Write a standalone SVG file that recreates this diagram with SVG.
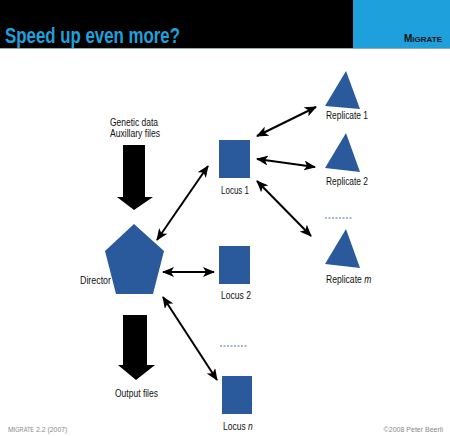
<svg xmlns="http://www.w3.org/2000/svg" width="450" height="436" viewBox="0 0 450 436">
  <defs>
    <style>
      .t { font-family: "Liberation Sans", Arial, sans-serif; font-size: 10px; fill: #111; }
      .node { fill: #2a5a9c; }
      .link { stroke: #000; stroke-width: 2; fill: none; marker-start: url(#head); marker-end: url(#head); }
      .foot { font-family: "Liberation Sans", Arial, sans-serif; font-size: 8px; fill: #888; }
      .dash { stroke: #4a6fa5; stroke-width: 1; stroke-dasharray: 2 1.5; }
    </style>
    <marker id="head" viewBox="0 0 12 10" refX="11" refY="5" markerWidth="12" markerHeight="10" markerUnits="userSpaceOnUse" orient="auto-start-reverse">
      <path d="M0,0 L12,5 L0,10 L3,5 Z" fill="#000"/>
    </marker>
  </defs>

  <rect width="450" height="436" fill="#fff"/>

  <!-- header band -->
  <g id="header">
    <rect x="0" y="0" width="353" height="48" fill="#000"/>
    <rect x="353" y="0" width="97" height="48" fill="#1ea0dc"/>
    <line x1="0" y1="48.5" x2="450" y2="48.5" stroke="#9aa" stroke-width="1"/>
    <text x="5" y="43" textLength="175" lengthAdjust="spacingAndGlyphs" font-family="Liberation Sans, Arial, sans-serif" font-weight="bold" font-size="22" fill="#1ea0dc">Speed up even more?</text>
    <text x="404" y="42" font-family="Liberation Sans, Arial, sans-serif" font-weight="bold" font-size="10" fill="#111">M<tspan font-size="8">IGRATE</tspan></text>
  </g>

  <!-- connectors -->
  <g id="connectors">
    <line class="link" x1="157" y1="240" x2="208" y2="166"/>
    <line class="link" x1="163" y1="272" x2="214" y2="272"/>
    <line class="link" x1="163" y1="297" x2="217" y2="380"/>
    <line class="link" x1="257" y1="136" x2="316" y2="107"/>
    <line class="link" x1="257" y1="159" x2="315" y2="167"/>
    <line class="link" x1="257" y1="181" x2="311" y2="236"/>
    <line class="dash" x1="325" y1="218" x2="353" y2="218"/>
    <line class="dash" x1="220" y1="346" x2="247" y2="346"/>
  </g>

  <!-- input -->
  <g id="input">
    <text class="t" x="110" y="126" textLength="48" lengthAdjust="spacingAndGlyphs">Genetic data</text>
    <text class="t" x="110" y="137" textLength="50" lengthAdjust="spacingAndGlyphs">Auxillary files</text>
    <polygon points="123,145 145,145 145,197 153,197 134,210 117,197 123,197" fill="#000"/>
  </g>

  <!-- director -->
  <g id="director">
    <polygon class="node" points="134,224 164,251 153,294 116,294 105,251"/>
    <text class="t" x="80" y="284" textLength="31" lengthAdjust="spacingAndGlyphs">Director</text>
  </g>

  <!-- output -->
  <g id="output">
    <polygon points="123,315 147,315 147,365 155,365 136,380 118,365 123,365" fill="#000"/>
    <text class="t" x="115" y="397" textLength="43" lengthAdjust="spacingAndGlyphs">Output files</text>
  </g>

  <!-- loci -->
  <g id="locus1">
    <rect class="node" x="219" y="140" width="31" height="38"/>
    <text class="t" x="221" y="194" textLength="28" lengthAdjust="spacingAndGlyphs">Locus 1</text>
  </g>
  <g id="locus2">
    <rect class="node" x="219" y="246" width="31" height="38"/>
    <text class="t" x="221" y="299" textLength="30" lengthAdjust="spacingAndGlyphs">Locus 2</text>
  </g>
  <g id="locusn">
    <rect class="node" x="222" y="376" width="30" height="38"/>
    <text class="t" transform="translate(223,430) scale(0.85,1)">Locus <tspan font-style="italic">n</tspan></text>
  </g>

  <!-- replicates -->
  <g id="replicate1">
    <polygon class="node" points="346,71 360,109 325,106"/>
    <text class="t" x="326" y="119" textLength="42" lengthAdjust="spacingAndGlyphs">Replicate 1</text>
  </g>
  <g id="replicate2">
    <polygon class="node" points="346,133 360,172 325,168"/>
    <text class="t" x="326" y="185" textLength="42" lengthAdjust="spacingAndGlyphs">Replicate 2</text>
  </g>
  <g id="replicatem">
    <polygon class="node" points="346,229 360,268 325,264"/>
    <text class="t" transform="translate(326,283) scale(0.86,1)">Replicate <tspan font-style="italic">m</tspan></text>
  </g>

  <!-- footer -->
  <g id="footer">
    <text class="foot" transform="translate(8,432) scale(0.86,1)">M<tspan font-size="6.5">IGRATE</tspan> 2.2 (2007)</text>
    <text class="foot" text-anchor="end" transform="translate(443,432) scale(0.88,1)">©2008 Peter Beerli</text>
  </g>
</svg>
